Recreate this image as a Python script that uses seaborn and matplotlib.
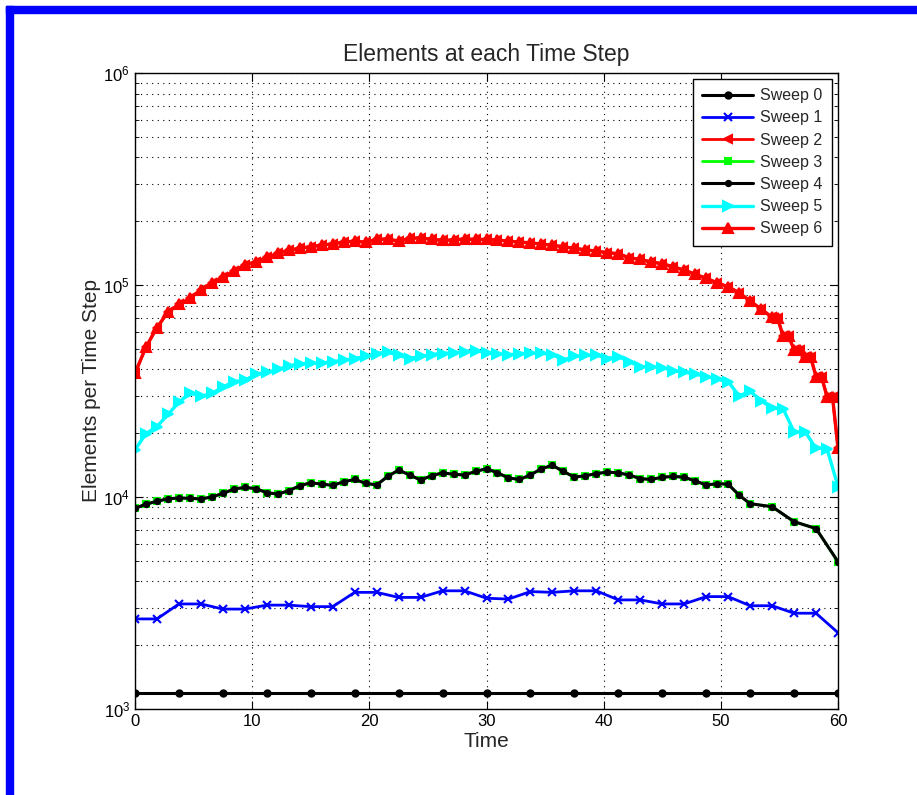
import numpy as np
import pandas as pd
import matplotlib
matplotlib.use("Agg")
import matplotlib.pyplot as plt
from matplotlib.patches import Rectangle
from matplotlib.ticker import LogLocator, NullFormatter
import seaborn as sns

# ---------------- data ----------------
t0 = np.linspace(0, 60, 17)
sweep0 = [1190] * 17

t1 = np.linspace(0, 60, 33)
sweep1 = [2660, 2660, 3130, 3130, 2960, 2960, 3090, 3090, 3040, 3040,
          3550, 3550, 3360, 3360, 3610, 3610, 3330, 3300, 3580, 3550,
          3610, 3610, 3270, 3270, 3130, 3130, 3390, 3390, 3070, 3070,
          2830, 2830, 2290]

t4 = np.concatenate([np.linspace(0, 51.5625, 56), [52.5, 54.375, 56.25, 58.125, 60]])
sweep4 = [8850, 9250, 9550, 9800, 9900, 9850, 9800, 10000, 10400, 10900,
          11100, 10950, 10480, 10330, 10700, 11300, 11670, 11500, 11350, 11800,
          12100, 11600, 11400, 12500, 13400, 12700, 12030, 12600, 13000, 12800,
          12700, 13200, 13600, 13000, 12300, 12100, 12700, 13600, 14100, 13200,
          12400, 12600, 12900, 13100, 13000, 12700, 12200, 12100, 12400, 12500,
          12400, 11900, 11400, 11550, 11500, 10200,
          9300, 9000, 7650, 7100, 4950]
# Sweep 3 lies exactly under Sweep 4 in the picture (green rim visible)
t3 = t4
sweep3 = list(sweep4)

t5 = np.linspace(0, 60, 65)
sweep5 = [16700, 19900, 21500, 24500, 28000, 31000, 29800, 30800, 33000, 35000,
          35500, 38000, 38700, 40000, 41500, 42500, 42700, 42800, 43500, 44200,
          45000, 46000, 47500, 48300, 46500, 45000, 46000, 47000, 47500, 48000,
          48500, 49000, 48000, 47500, 46800, 47500, 47600, 47600, 47000, 44300,
          46000, 46500, 46700, 45000, 45900, 43500, 41200, 41200, 40800, 39500,
          38800, 38000, 37000, 36000, 35000, 30000, 31500, 28500, 26200, 26100,
          20300, 20300, 17000, 16900, 11200]

t6 = np.concatenate([np.linspace(0, 54.375, 59), np.linspace(54.84375, 60, 12)])
sweep6 = [38300, 51000, 63000, 74500, 81000, 86500, 95000, 102500, 109000, 116000,
          124500, 128500, 135000, 141000, 146000, 149000, 151800, 154000, 156500, 159500,
          161000, 159000, 164000, 165000, 161000, 166000, 167000, 164000, 162500, 163000,
          165000, 164000, 164000, 163000, 161000, 159500, 158000, 156000, 154000, 151500,
          149000, 146500, 144500, 142000, 140500, 134500, 132000, 128500, 126000, 122000,
          117500, 112500, 107500, 102500, 98000, 92000, 84000, 77000, 70400,
          69600, 57500, 57400, 49500, 49300, 45900, 45900, 37000, 37000, 29700, 29700, 17000]
# Sweep 2 lies under Sweep 6 in the picture
t2 = t6
sweep2 = list(sweep6)

labels = ["Sweep 0", "Sweep 1", "Sweep 2", "Sweep 3", "Sweep 4", "Sweep 5", "Sweep 6"]
xticks = [0, 10, 20, 30, 40, 50, 60]

# ---------------- figure ----------------
sns.set_style("white")
plt.rcParams["font.family"] = ["Liberation Sans", "DejaVu Sans"]
plt.rcParams["mathtext.fontset"] = "custom"
plt.rcParams["mathtext.rm"] = "Liberation Sans"
plt.rcParams["mathtext.it"] = "Liberation Sans"

fig = plt.figure(figsize=(9.17, 7.95), dpi=100)
fig.patch.set_facecolor("white")
ax = fig.add_axes([135 / 917, 1 - 709 / 795, (838 - 135) / 917, (709 - 73) / 795])

styles = [
    (t0, sweep0, "#000000", ".", 9, 2.2),
    (t1, sweep1, "#0000ff", "x", 6, 2.0),
    (t2, sweep2, "#ff0000", "<", 6, 2.0),
    (t3, sweep3, "#00ff00", "s", 5, 2.0),
    (t4, sweep4, "#000000", ".", 7.5, 2.2),
    (t5, sweep5, "#00ffff", ">", 6.5, 2.4),
    (t6, sweep6, "#ff0000", "^", 6.5, 2.4),
]

for (tt, vv, col, mk, ms, lw), lab in zip(styles, labels):
    df = pd.DataFrame({"Time": tt, "Elements": vv})
    sns.lineplot(data=df, x="Time", y="Elements", ax=ax, color=col, marker=mk,
                 markersize=ms, markeredgecolor=col, markerfacecolor=col,
                 markeredgewidth=1.5, linewidth=lw, label=lab,
                 estimator=None, sort=False)

ax.set_yscale("log")
ax.set_ylim(1e3, 1e6)
ax.set_xlim(0, 60)
ax.set_xticks(xticks)
ax.yaxis.set_major_locator(LogLocator(base=10, numticks=10))
ax.yaxis.set_minor_locator(LogLocator(base=10, subs=np.arange(2, 10), numticks=20))
ax.yaxis.set_minor_formatter(NullFormatter())

ax.grid(True, which="major", axis="both", color="black", linestyle=(0, (1, 4)), linewidth=0.8)
ax.grid(True, which="minor", axis="y", color="black", linestyle=(0, (1, 4)), linewidth=0.8)

for sp in ax.spines.values():
    sp.set_visible(True)
    sp.set_color("black")
    sp.set_linewidth(1.0)

ax.tick_params(axis="both", which="both", direction="in", top=True, right=True,
               left=True, bottom=True, colors="black", labelsize=12)
ax.tick_params(which="major", length=6)
ax.tick_params(which="minor", length=3)

ax.set_title("Elements at each Time Step", fontsize=16.5, pad=9)
ax.set_xlabel("Time", fontsize=15, labelpad=2)
ax.set_ylabel("Elements per Time Step", fontsize=15, labelpad=2)

leg = ax.legend(loc="upper right", fontsize=11.5, frameon=True, fancybox=False,
                edgecolor="black", framealpha=1, borderaxespad=0.35,
                handlelength=3.2, labelspacing=0.45, borderpad=0.6,
                handletextpad=0.45)
leg.get_frame().set_linewidth(1.0)

# blue frame around the picture (top and left edges)
fig.patches.append(Rectangle((6 / 917, 1 - 13 / 795), 1 - 6 / 917, 7 / 795,
                             transform=fig.transFigure, color="#0000ff", zorder=10))
fig.patches.append(Rectangle((6 / 917, 0), 7 / 917, 1 - 6 / 795,
                             transform=fig.transFigure, color="#0000ff", zorder=10))

fig.savefig("out.png", dpi=100, facecolor="white")
